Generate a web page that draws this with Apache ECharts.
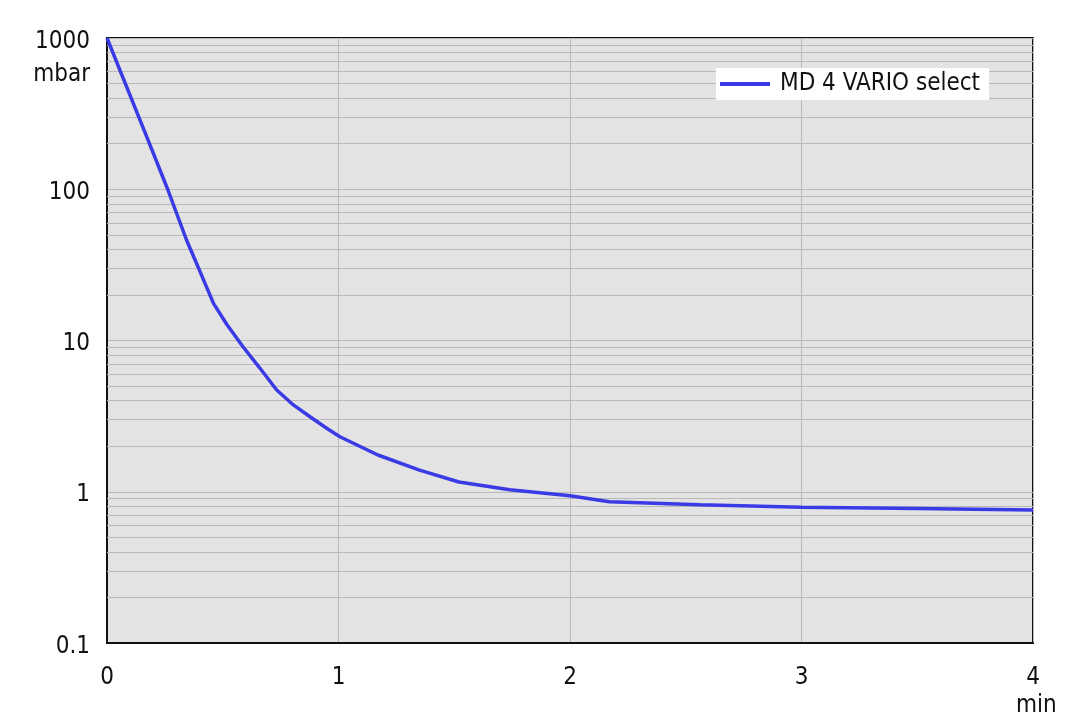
<!DOCTYPE html>
<html>
<head>
<meta charset="utf-8">
<script src="https://cdn.jsdelivr.net/npm/echarts@6/dist/echarts.min.js"></script>
<style>
html,body{margin:0;padding:0;background:#fff;}
#chart{width:1080px;height:721px;}
</style>
</head>
<body>
<div id="chart"></div>
<script>
// Data
var timeMin = [0, 0.177, 0.262, 0.344, 0.40, 0.46, 0.517, 0.585, 0.661, 0.733, 0.805, 0.877, 0.949, 1.006, 1.17, 1.35, 1.52, 1.74, 2.0, 2.17, 2.56, 3.0, 3.5, 4.0];
var pressureMbar = [1000, 212, 100, 46, 29, 17.6, 12.8, 9.2, 6.55, 4.71, 3.75, 3.13, 2.63, 2.31, 1.75, 1.39, 1.16, 1.03, 0.94, 0.86, 0.82, 0.79, 0.775, 0.757];
var seriesName = 'MD 4 VARIO select';
var xTicks = [0, 1, 2, 3, 4];
var yDecades = [0.1, 1, 10, 100, 1000];

var FONT = '"DejaVu Sans Condensed", Lato, sans-serif';

var points = timeMin.map(function (t, i) { return [t, pressureMbar[i]]; });

// minor log gridlines (2..9 within each decade)
var minorLines = [];
for (var d = 0; d < yDecades.length - 1; d++) {
  for (var k = 2; k <= 9; k++) {
    minorLines.push({ yAxis: +(yDecades[d] * k).toPrecision(3) });
  }
}

var chart = echarts.init(document.getElementById('chart'));
chart.setOption({
  animation: false,
  backgroundColor: '#ffffff',
  grid: {
    left: 107, right: 47, top: 38, bottom: 78,
    show: true,
    backgroundColor: '#e3e3e3',
    borderColor: '#111',
    borderWidth: 2
  },
  legend: {
    show: true,
    left: 716, top: 68,
    backgroundColor: '#ffffff',
    padding: [4, 9, 4, 4],
    itemWidth: 50, itemHeight: 4, itemGap: 10,
    icon: 'rect',
    textStyle: { fontFamily: FONT, fontSize: 24, color: '#111', padding: [0, 0, 0, 5] },
    data: [seriesName]
  },
  xAxis: {
    type: 'value',
    min: 0, max: 4, interval: 1,
    axisLine: { show: true, onZero: false, lineStyle: { color: '#111', width: 2 } },
    axisTick: { show: false },
    splitLine: { show: true, lineStyle: { color: '#b9b9b9', width: 1 } },
    axisLabel: { fontFamily: FONT, fontSize: 24, color: '#111', margin: 23,
      formatter: function (v) { return xTicks.indexOf(v) >= 0 ? String(v) : ''; } }
  },
  yAxis: {
    type: 'log',
    logBase: 10,
    min: 0.1, max: 1000,
    axisLine: { show: true, lineStyle: { color: '#111', width: 2 } },
    axisTick: { show: false },
    splitLine: { show: true, lineStyle: { color: '#b9b9b9', width: 1 } },
    axisLabel: { fontFamily: FONT, fontSize: 24, color: '#111', margin: 17,
      rich: { v: { fontFamily: FONT, fontSize: 24, color: '#111', padding: [7, 0, 0, 0] } },
      formatter: function (v) {
        var r = +Number(v).toPrecision(3);
        return yDecades.indexOf(r) >= 0 ? '{v|' + r + '}' : '';
      } }
  },
  graphic: [
    { type: 'text', right: 1080 - 90, top: 63,
      style: { text: 'mbar', font: '24px ' + FONT, fill: '#111', textAlign: 'right' } },
    { type: 'text', left: 1016, top: 694,
      style: { text: 'min', font: '24px ' + FONT, fill: '#111' } }
  ],
  series: [{
    name: seriesName,
    type: 'line',
    data: points,
    smooth: false,
    showSymbol: false,
    symbol: 'none',
    lineStyle: { color: '#3b3be6', width: 3.5 },
    itemStyle: { color: '#3b3be6' },
    z: 5,
    markLine: {
      silent: true,
      symbol: 'none',
      label: { show: false },
      lineStyle: { color: '#b9b9b9', width: 1, type: 'solid' },
      emphasis: { disabled: true },
      data: minorLines,
      z: 1
    }
  }]
});
</script>
</body>
</html>
